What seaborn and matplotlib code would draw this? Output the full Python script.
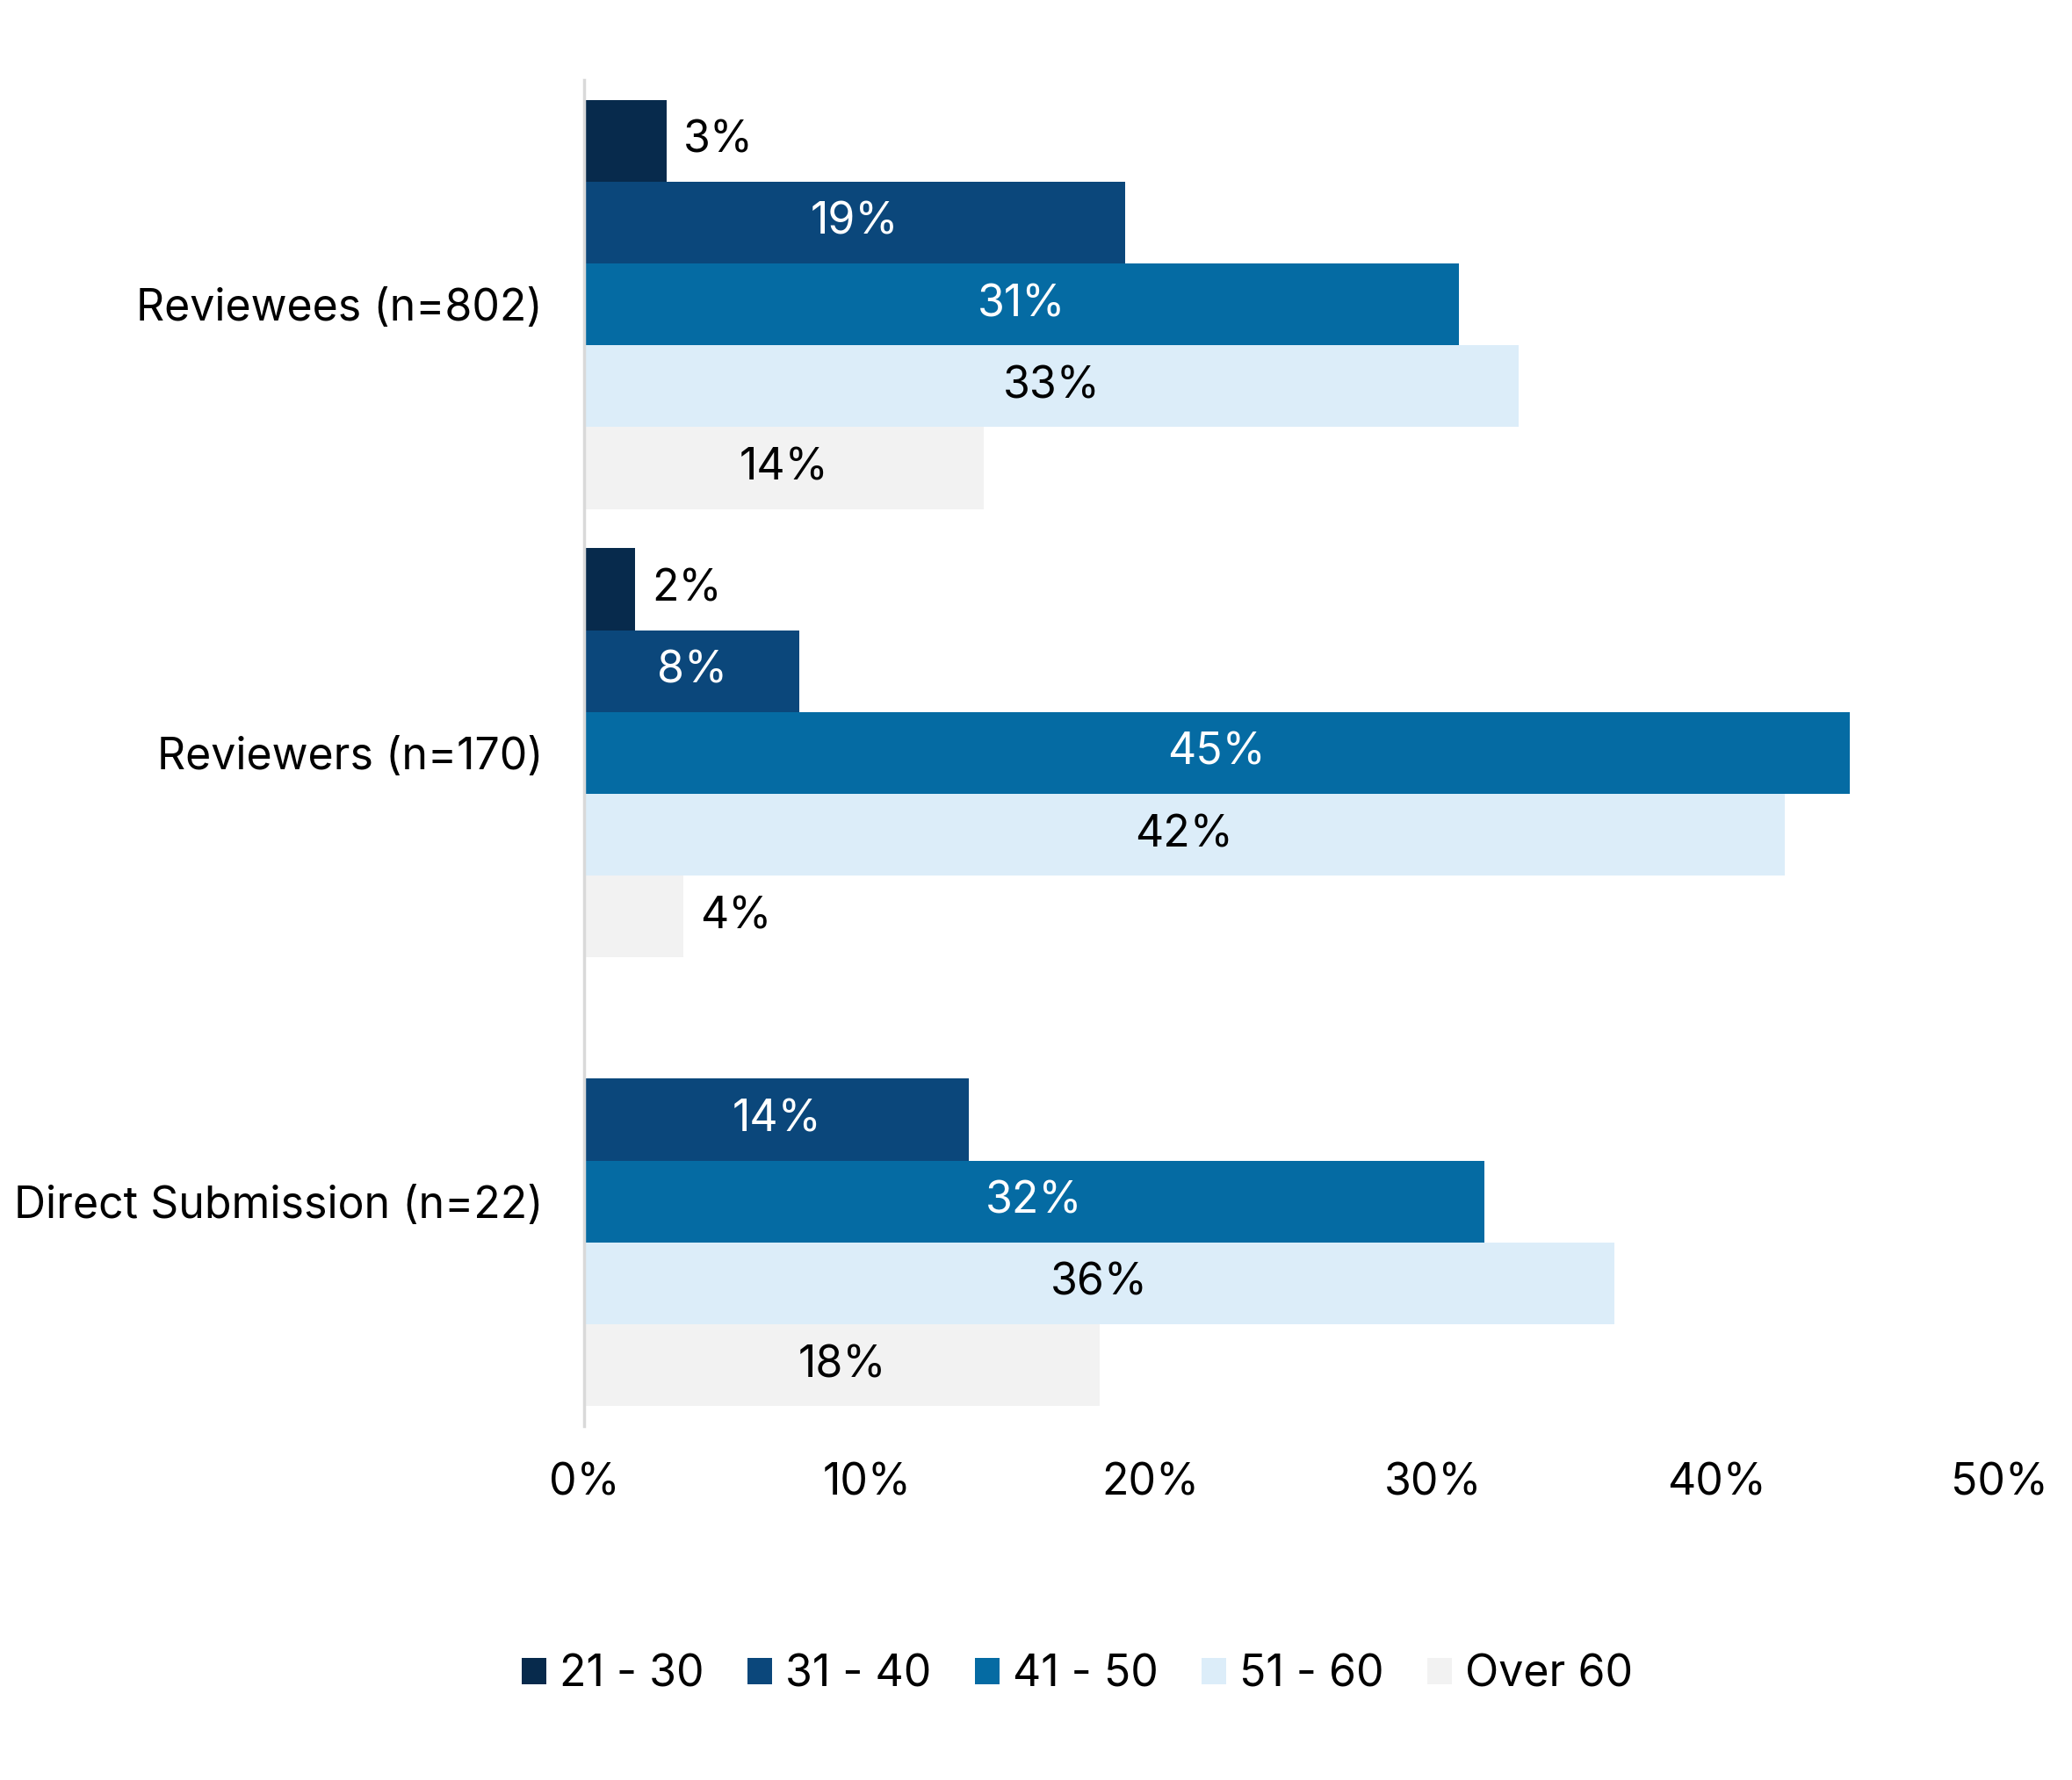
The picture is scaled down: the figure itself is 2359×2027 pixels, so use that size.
import numpy as np
import pandas as pd
import matplotlib
matplotlib.use("Agg")
import matplotlib.pyplot as plt
import seaborn as sns
from matplotlib.patches import Patch

# --- data (percent of respondents) ---
groups = ["Reviewees (n=802)", "Reviewers (n=170)", "Direct Submission (n=22)"]
ages = ["21 - 30", "31 - 40", "41 - 50", "51 - 60", "Over 60"]
reviewees = [2.9, 19.1, 30.9, 33.0, 14.1]
reviewers = [1.8, 7.6, 44.7, 42.4, 3.5]
direct = [0.0, 13.6, 31.8, 36.4, 18.2]
colors = ["#072A4C", "#0B477B", "#056BA3", "#DCEDF9", "#F2F2F2"]
label_colors = ["black", "white", "white", "black", "black"]

rows = []
for g, vals in zip(groups, [reviewees, reviewers, direct]):
    for a, v in zip(ages, vals):
        rows.append({"Group": g, "Age": a, "Pct": v})
df = pd.DataFrame(rows)

sns.set_style("white")
plt.rcParams['font.family'] = ['Inter', 'DejaVu Sans']
plt.rcParams['text.color'] = 'black'
plt.rcParams['xtick.color'] = 'black'
plt.rcParams['ytick.color'] = 'black'

FS = 36

fig = plt.figure(figsize=(23.59, 20.27), dpi=100)
ax = fig.add_axes([0.282, 0.199, 0.683, 0.756])

sns.barplot(data=df, x="Pct", y="Group", hue="Age", order=groups, hue_order=ages,
            palette=colors, orient="h", width=0.912, linewidth=0, saturation=1,
            errorbar=None, ax=ax, legend=False)

# value labels: centred inside, or just outside for the small bars
for i, cont in enumerate(ax.containers):
    vals = [p.get_width() for p in cont]
    inside = [f"{v:.0f}%" if v >= 5 else "" for v in vals]
    outside = [f"{v:.0f}%" if 0 < v < 5 else "" for v in vals]
    ax.bar_label(cont, labels=inside, label_type="center", fontsize=FS,
                 color=label_colors[i])
    ax.bar_label(cont, labels=outside, label_type="edge", padding=14,
                 fontsize=FS, color="black")

ax.set_xlim(0, 50)
ax.set_ylim(2.5, -0.5)
ax.set_xticks([0, 10, 20, 30, 40, 50])
ax.set_xticklabels([f"{t}%" for t in [0, 10, 20, 30, 40, 50]])
ax.set_xlabel("")
ax.set_ylabel("")
ax.tick_params(axis="x", length=0, pad=30, labelsize=FS)
ax.tick_params(axis="y", length=0, pad=34, labelsize=FS)
for s in ["top", "right", "bottom"]:
    ax.spines[s].set_visible(False)
ax.spines["left"].set_color("#D9D9D9")
ax.spines["left"].set_linewidth(2.5)

handles = [Patch(facecolor=c, edgecolor="none") for c in colors]
fig.legend(handles, ages, loc="center", bbox_to_anchor=(0.52, 0.059),
           ncol=5, frameon=False, fontsize=FS, handlelength=0.55,
           handleheight=0.55, handletextpad=0.3, columnspacing=1.0)

fig.savefig("out.png", dpi=100)
